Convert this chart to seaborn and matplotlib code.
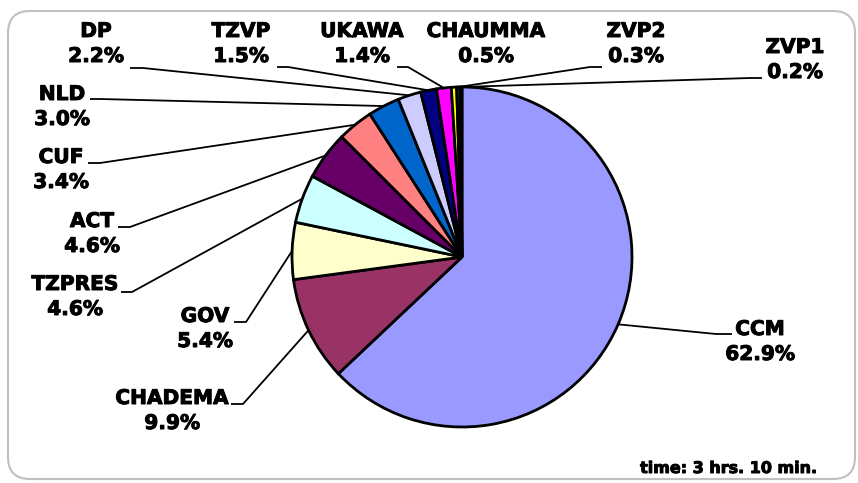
import matplotlib
matplotlib.use("Agg")
import matplotlib.pyplot as plt
import matplotlib.patheffects as pe
from matplotlib.patches import FancyBboxPatch
import numpy as np
import seaborn as sns

# ---- data ----
parties = ["CCM", "CHADEMA", "GOV", "TZPRES", "ACT", "CUF", "NLD", "DP",
           "TZVP", "UKAWA", "CHAUMMA", "ZVP2", "ZVP1"]
shares = [62.9, 9.9, 5.4, 4.6, 4.6, 3.4, 3.0, 2.2, 1.5, 1.4, 0.5, 0.3, 0.2]
colors_hex = ["#9999FF", "#993366", "#FFFFCC", "#CCFFFF", "#660066", "#FF8080",
              "#0066CC", "#CCCCFF", "#000080", "#FF00FF", "#FFFF00", "#00FFFF",
              "#800080"]
note = "time: 3 hrs. 10 min."

# ---- layout (pixels from top-left) ----
W, H = 858, 483
label_center_x = [760, 172, 205, 75, 92, 61, 62, 96, 241, 362, 486, 636, 795]
label_base_y = [335, 404, 322, 290, 227, 163, 100, 37, 37, 37, 37, 37, 53]
leader_start = [(732, 334), (231, 404), (234, 322), (121, 292), (118, 227),
                (88, 163), (90, 99), (130, 68), (277, 67), (397, 67), None,
                (602, 67), (762, 78)]
leader_elbow = [(716, 334), (243, 404), (246, 322), (132, 292), (130, 227),
                (100, 163), (100, 99), (143, 68), (288, 67), (408, 67), None,
                (590, 67), (750, 78)]

sns.set_style("white")
plt.rcParams['font.family'] = ['DejaVu Sans']

fig = plt.figure(figsize=(W / 100, H / 100), dpi=100)
ax = fig.add_axes([0, 0, 1, 1])

palette = sns.color_palette(colors_hex)
cx, cy, r = 462, H - 257, 170
wedges, _ = ax.pie(shares, colors=palette, startangle=90, counterclock=False,
                   center=(cx, cy), radius=r,
                   wedgeprops=dict(edgecolor="black", linewidth=2.0))
ax.set_xlim(0, W)
ax.set_ylim(0, H)
ax.set_aspect("equal")
ax.axis("off")

# border
border = FancyBboxPatch((8, 4), 847, 468, boxstyle="round,pad=0,rounding_size=22",
                        facecolor="none", edgecolor="#C0C0C0", linewidth=1.5,
                        zorder=0)
ax.add_patch(border)

heavy = [pe.withStroke(linewidth=0.7, foreground="black")]
fs = 14.5
for i, (name, val) in enumerate(zip(parties, shares)):
    x = label_center_x[i]
    yb = H - label_base_y[i]
    ax.text(x, yb, name, ha="center", va="baseline", fontsize=fs,
            fontweight="bold", color="black", path_effects=heavy)
    ax.text(x, yb - 25, f"{val:.1f}%", ha="center", va="baseline", fontsize=fs,
            fontweight="bold", color="black", path_effects=heavy)
    if leader_start[i] is not None:
        w = wedges[i]
        mid = np.deg2rad((w.theta1 + w.theta2) / 2)
        ex, ey = cx + r * np.cos(mid), cy + r * np.sin(mid)
        (x0, y0), (x1, y1) = leader_start[i], leader_elbow[i]
        ax.plot([x0, x1, ex], [H - y0, H - y1, ey], color="black", lw=1.3,
                solid_capstyle="butt", zorder=3)

ax.text(818, H - 473, note, ha="right", va="baseline", fontsize=11.5,
        fontweight="bold", color="black", path_effects=heavy)

fig.savefig("out.png", dpi=100)
